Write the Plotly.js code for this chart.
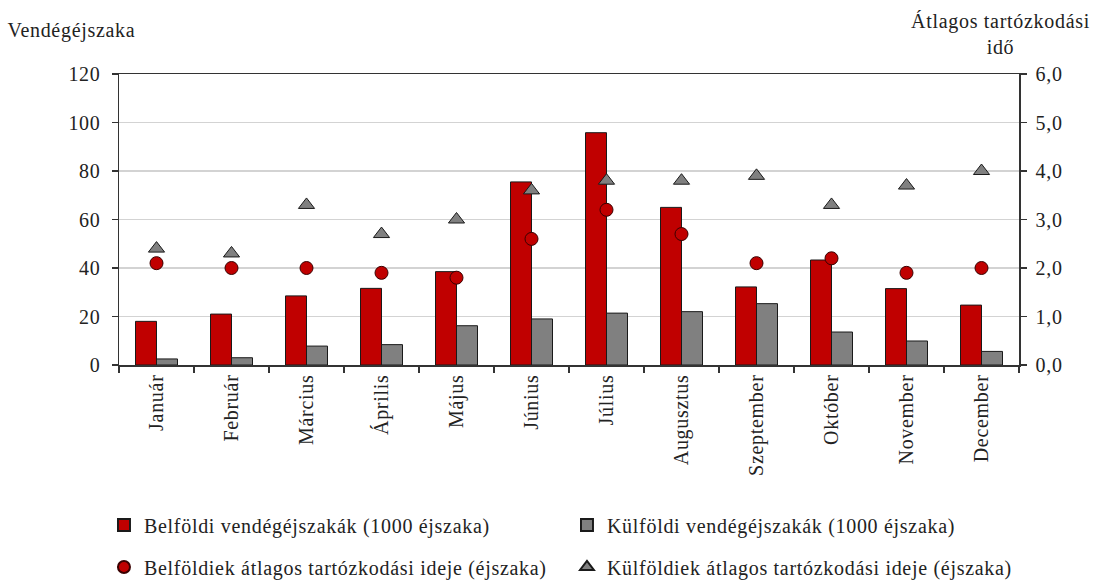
<!DOCTYPE html>
<html>
<head>
<meta charset="utf-8">
<script src="https://cdn.plot.ly/plotly-3.0.1.min.js"></script>
<style>html,body{margin:0;padding:0;background:#fff;}#chart{width:1099px;height:581px;}
#chart text{letter-spacing:0.7px;}</style>
</head>
<body>
<div id="chart"></div>
<script>
const months = ["Január","Február","Március","Április","Május","Június","Július","Augusztus","Szeptember","Október","November","December"];
const belfoldiEj = [18, 21, 28.5, 31.6, 38.5, 75.5, 95.8, 65, 32.2, 43.3, 31.5, 24.7];
const kulfoldiEj = [2.5, 3.0, 7.8, 8.4, 16.2, 19.0, 21.4, 22.0, 25.3, 13.6, 9.9, 5.6];
const belfoldiAtl = [2.1, 2.0, 2.0, 1.9, 1.8, 2.6, 3.2, 2.7, 2.1, 2.2, 1.9, 2.0];
const kulfoldiAtl = [2.4, 2.3, 3.3, 2.7, 3.0, 3.6, 3.8, 3.8, 3.9, 3.3, 3.7, 4.0];

const FONT = "Liberation Serif, Times New Roman, serif";
const FS = 20;
const TXT = "#222";
const traces = [
  {type:"bar", x:months, y:belfoldiEj, name:"Belföldi vendégéjszakák (1000 éjszaka)",
   marker:{color:"#C00000", line:{color:"#1a1a1a", width:1}}, legend:"legend"},
  {type:"bar", x:months, y:kulfoldiEj, name:"Külföldi vendégéjszakák (1000 éjszaka)",
   marker:{color:"#808080", line:{color:"#1a1a1a", width:1}}, legend:"legend"},
  {type:"scatter", mode:"markers", x:months, y:belfoldiAtl, yaxis:"y2", name:"Belföldiek átlagos tartózkodási ideje (éjszaka)",
   marker:{symbol:"circle", size:13, color:"#C00000", line:{color:"#3a0000", width:1}}, legend:"legend2"},
  {type:"scatter", mode:"markers", x:months, y:kulfoldiAtl, yaxis:"y2", name:"Külföldiek átlagos tartózkodási ideje (éjszaka)",
   marker:{symbol:"triangle-up", size:14, color:"#808080", line:{color:"#1a1a1a", width:1}}, legend:"legend2"}
];

const legendBase = {orientation:"h", xanchor:"left", yanchor:"middle", itemsizing:"constant",
  entrywidth:418, entrywidthmode:"pixels", font:{family:FONT, size:FS, color:TXT}, bgcolor:"rgba(0,0,0,0)"};

const layout = {
  width:1099, height:581,
  margin:{l:119, r:80, t:74, b:216, autoexpand:false},
  paper_bgcolor:"#fff", plot_bgcolor:"#fff",
  font:{family:FONT, size:FS, color:TXT},
  separators:",.",
  barmode:"group", bargap:0.44, bargroupgap:0,
  showlegend:true,
  xaxis:{type:"category", range:[-0.5, 11.5], automargin:false, showline:true, linecolor:"#333", linewidth:1.5, mirror:true,
    ticks:"outside", tickson:"boundaries", ticklen:6, tickcolor:"#333", tickwidth:1.5,
    tickangle:-90, tickfont:{family:FONT, size:FS, color:TXT}, showgrid:false},
  yaxis:{range:[0,120], dtick:20, automargin:false, showline:true, linecolor:"#333", linewidth:1.5,
    ticks:"outside", ticklen:6, tickcolor:"#333", tickwidth:1.5, ticklabelstandoff:7,
    gridcolor:"#d3d3d3", gridwidth:1.5, zeroline:false, tickfont:{family:FONT, size:FS, color:TXT}},
  yaxis2:{range:[0,6], dtick:1, tickformat:".1f", overlaying:"y", side:"right", automargin:false,
    showline:true, linecolor:"#333", linewidth:1.5, ticks:"outside", ticklen:6, tickcolor:"#333", tickwidth:1.5,
    ticklabelstandoff:5,
    showgrid:false, zeroline:false, tickfont:{family:FONT, size:FS, color:TXT}},
  legend:Object.assign({}, legendBase, {x:-0.0167, y:-0.55}),
  legend2:Object.assign({}, legendBase, {x:-0.0167, y:-0.694}),
  annotations:[
    {text:"Vendégéjszaka", xref:"paper", yref:"paper", x:-0.121, y:1.148, xanchor:"left", yanchor:"middle",
     showarrow:false, font:{family:FONT, size:FS, color:TXT}},
    {text:"Átlagos tartózkodási<br>idő", xref:"paper", yref:"paper", x:0.979, y:1.137, xanchor:"center", yanchor:"middle",
     showarrow:false, align:"center", font:{family:FONT, size:FS, color:TXT}}
  ]
};

Plotly.newPlot("chart", traces, layout, {displayModeBar:false, staticPlot:true});
</script>
</body>
</html>
